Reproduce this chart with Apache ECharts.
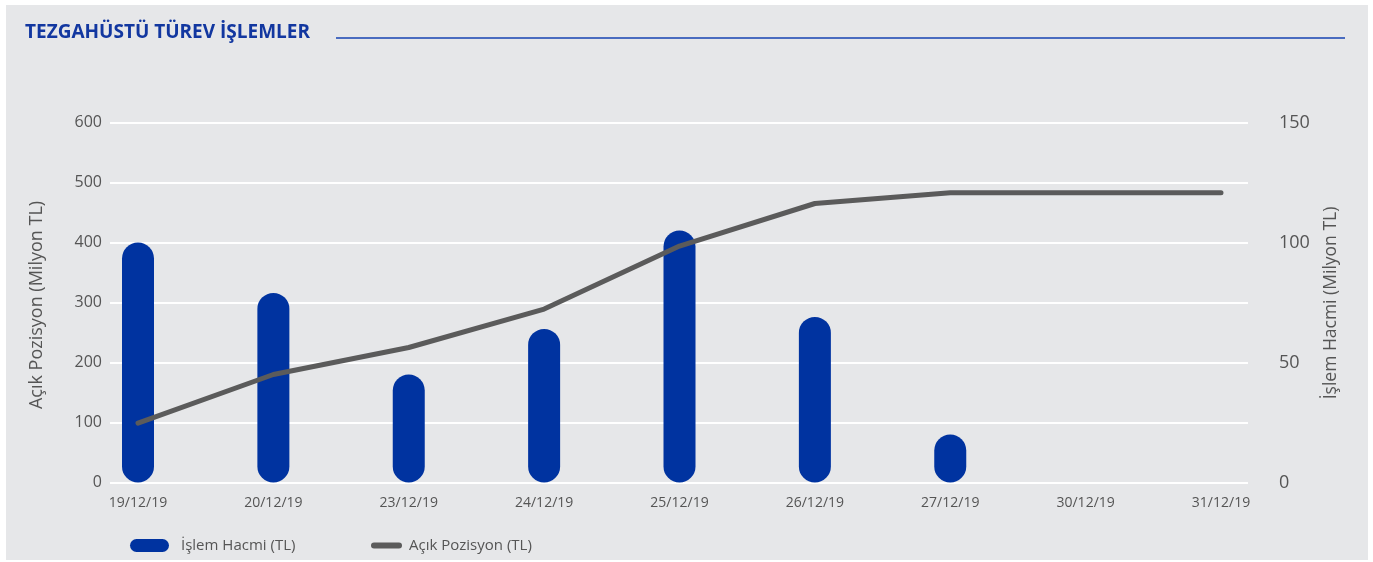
<!DOCTYPE html>
<html>
<head>
<meta charset="utf-8">
<script src="https://cdn.jsdelivr.net/npm/echarts@6/dist/echarts.min.js"></script>
<style>
  html, body { margin: 0; padding: 0; background: #ffffff; }
  #chart { width: 1373px; height: 562px; }
</style>
</head>
<body>
<div id="chart"></div>
<script>
// Trading days
const dates = ['19/12/19', '20/12/19', '23/12/19', '24/12/19', '25/12/19', '26/12/19', '27/12/19', '30/12/19', '31/12/19'];
// İşlem Hacmi (Milyon TL) - right axis
const volume = [100, 79, 45, 64, 105, 69, 20, 0, 0];
// Açık Pozisyon (Milyon TL) - left axis
const openPosition = [99, 180, 225, 289, 394, 465, 483, 483, 483];
// Axis ticks
const leftTicks = { min: 0, max: 600, interval: 100 };
const rightTicks = { min: 0, max: 150, interval: 50 };

const FONT = '"Open Sans", "Noto Sans", sans-serif';
const BLUE = '#0033a0';
const GREY = '#5b5b5b';
const TEXT = '#555555';
const TOP = 122.5, BOTTOM = 562 - 482.5;

// pill-shaped legend markers
const PILL_WIDE = 'path://M6.5,0 L32.5,0 A6.5,6.5 0 0 1 32.5,13 L6.5,13 A6.5,6.5 0 0 1 6.5,0 Z';
const PILL_THIN = 'path://M3,0 L28,0 A3,3 0 0 1 28,6 L3,6 A3,3 0 0 1 3,0 Z';

const chart = echarts.init(document.getElementById('chart'));
chart.setOption({
  backgroundColor: '#ffffff',
  animation: false,
  textStyle: { fontFamily: FONT },
  graphic: [
    { type: 'rect', z: -10, shape: { x: 6, y: 5, width: 1362, height: 555 }, style: { fill: '#e6e7e9' } },
    { type: 'text', left: 25, top: 23, style: { text: 'TEZGAHÜSTÜ TÜREV İŞLEMLER', fill: '#1237a0', font: 'bold 19px ' + FONT } },
    { type: 'line', shape: { x1: 336, y1: 38, x2: 1345, y2: 38 }, style: { stroke: '#4a6cc0', lineWidth: 1.8 } },
    { type: 'text', x: 37, y: 305, rotation: Math.PI / 2, style: { text: 'Açık Pozisyon (Milyon TL)', fill: TEXT, font: '18px ' + FONT, textAlign: 'center', textVerticalAlign: 'middle' } },
    { type: 'text', x: 1331, y: 303, rotation: Math.PI / 2, style: { text: 'İşlem Hacmi (Milyon TL)', fill: TEXT, font: '17.5px ' + FONT, textAlign: 'center', textVerticalAlign: 'middle' } }
  ],
  legend: [
    {
      left: 130, top: 538, padding: 0, itemWidth: 39, itemHeight: 13, itemGap: 12,
      data: [{ name: 'İşlem Hacmi (TL)', icon: PILL_WIDE }],
      textStyle: { color: TEXT, fontSize: 15, fontFamily: FONT, padding: [0, 0, 0, 7] }
    },
    {
      left: 371, top: 538, padding: 0, itemWidth: 31, itemHeight: 6,
      data: [{ name: 'Açık Pozisyon (TL)', icon: PILL_THIN }],
      textStyle: { color: TEXT, fontSize: 15, fontFamily: FONT, padding: [0, 0, 0, 2] }
    }
  ],
  grid: [
    { left: 138, right: 152, top: TOP, bottom: BOTTOM },
    { left: 110, right: 125, top: TOP, bottom: BOTTOM }
  ],
  xAxis: [
    {
      type: 'category', gridIndex: 0, data: dates, boundaryGap: false,
      axisLine: { show: false }, axisTick: { show: false },
      axisLabel: { color: TEXT, fontSize: 14, margin: 14, fontFamily: FONT }
    },
    { type: 'value', gridIndex: 1, show: false, min: 0, max: 1 }
  ],
  yAxis: [
    {
      type: 'value', gridIndex: 0, position: 'left', ...leftTicks,
      axisLine: { show: false }, axisTick: { show: false }, splitLine: { show: false },
      axisLabel: { color: TEXT, fontSize: 16, margin: 36, fontFamily: FONT }
    },
    {
      type: 'value', gridIndex: 0, position: 'right', ...rightTicks,
      axisLine: { show: false }, axisTick: { show: false }, splitLine: { show: false },
      axisLabel: { color: TEXT, fontSize: 18, margin: 58, fontFamily: FONT }
    },
    {
      type: 'value', gridIndex: 1, ...leftTicks,
      axisLine: { show: false }, axisTick: { show: false }, axisLabel: { show: false },
      splitLine: { show: true, lineStyle: { color: '#ffffff', width: 2 } }
    }
  ],
  series: [
    {
      name: 'İşlem Hacmi (TL)', type: 'bar', xAxisIndex: 0, yAxisIndex: 1,
      data: volume, barWidth: 32,
      itemStyle: { color: BLUE, borderRadius: 16 }
    },
    {
      name: 'Açık Pozisyon (TL)', type: 'line', xAxisIndex: 0, yAxisIndex: 0,
      data: openPosition, symbol: 'none', z: 5,
      lineStyle: { color: GREY, width: 5, cap: 'round', join: 'round' },
      itemStyle: { color: GREY }
    }
  ]
});
</script>
</body>
</html>
